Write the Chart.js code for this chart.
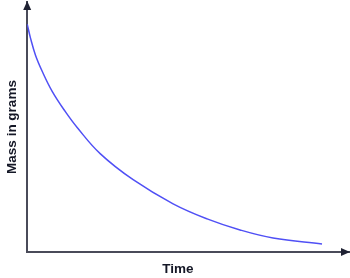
<!DOCTYPE html>
<html>
<head>
<meta charset="utf-8">
<script src="https://cdn.jsdelivr.net/npm/chart.js@4/dist/chart.umd.min.js"></script>
<style>
  body { margin: 0; background: #fff; }
  #wrap { width: 350px; height: 278px; }
</style>
</head>
<body>
<div id="wrap"><canvas id="myChart"></canvas></div>
<script>
  // data (time and mass in arbitrary units)
  const time = [0, 3.3, 8.3, 15, 25, 38, 50, 73, 106, 146, 180, 213, 246, 295];
  const mass = [227, 213, 196, 180, 160, 140, 124, 98, 72, 48, 33, 22, 14, 8];
  const xLabel = 'Time';
  const yLabel = 'Mass in grams';

  const axisColor = '#4a4b59';
  const textColor = '#141726';
  const fontFamily = 'Liberation Sans, Arial, sans-serif';

  // arrowheads on the ends of both axes + the x title
  const arrows = {
    id: 'arrows',
    afterDraw(chart) {
      const ctx = chart.ctx;
      const a = chart.chartArea;
      ctx.save();
      ctx.fillStyle = '#1f2233';
      // y axis top
      ctx.beginPath();
      ctx.moveTo(a.left, a.top - 1);
      ctx.lineTo(a.left - 4, a.top + 8);
      ctx.lineTo(a.left + 4, a.top + 8);
      ctx.closePath();
      ctx.fill();
      // x axis right
      ctx.beginPath();
      ctx.moveTo(a.right + 1, a.bottom);
      ctx.lineTo(a.right - 8, a.bottom - 4);
      ctx.lineTo(a.right - 8, a.bottom + 4);
      ctx.closePath();
      ctx.fill();
      // x title, centred under the canvas rather than the plot
      ctx.fillStyle = textColor;
      ctx.font = 'bold 13.5px ' + fontFamily;
      ctx.textAlign = 'center';
      ctx.textBaseline = 'middle';
      ctx.fillText(xLabel, 178, 269);
      ctx.restore();
    }
  };

  const data = {
    datasets: [{
      data: time.map((t, i) => ({ x: t, y: mass[i] })),
      borderColor: '#5050f5',
      borderWidth: 1.5,
      pointRadius: 0,
      tension: 0.4,
      fill: false
    }]
  };

  const config = {
    type: 'line',
    data,
    options: {
      responsive: false,
      animation: false,
      layout: { padding: { top: 2, right: 1, left: 4, bottom: 26 } },
      plugins: { legend: { display: false }, tooltip: { enabled: false } },
      scales: {
        x: {
          type: 'linear',
          min: 0,
          max: 322,
          ticks: { display: false },
          grid: { display: false, drawTicks: false },
          border: { color: axisColor, width: 2 }
        },
        y: {
          min: 0,
          max: 249,
          ticks: { display: false },
          grid: { display: false, drawTicks: false },
          border: { color: axisColor, width: 2 },
          title: {
            display: true,
            text: yLabel,
            color: textColor,
            font: { family: fontFamily, size: 13.5, weight: 'bold' },
            padding: { top: 0, bottom: 7 }
          }
        }
      }
    },
    plugins: [arrows]
  };

  const canvas = document.getElementById('myChart');
  canvas.width = 350;
  canvas.height = 278;
  const myChart = new Chart(canvas, config);
</script>
</body>
</html>
